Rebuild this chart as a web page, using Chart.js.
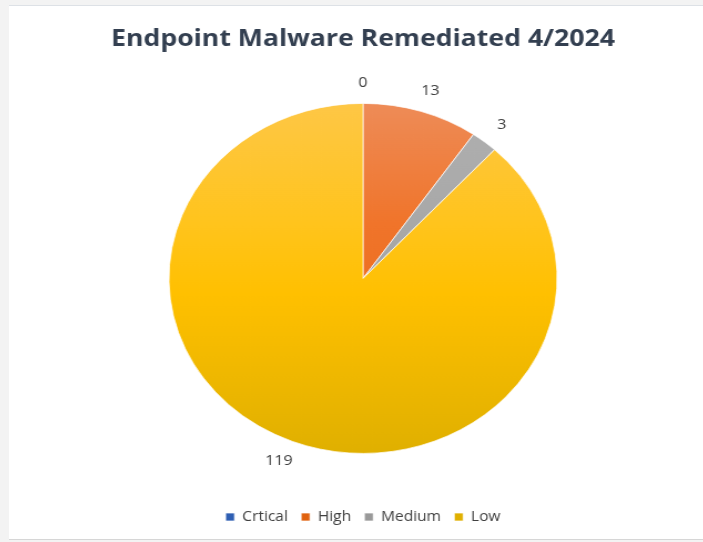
<!DOCTYPE html>
<html>
<head>
<meta charset="utf-8">
<script src="https://cdn.jsdelivr.net/npm/chart.js@4.4.1/dist/chart.umd.min.js"></script>
<style>
  html, body { margin: 0; padding: 0; background: #f3f3f3; }
  body { width: 703px; height: 542px; position: relative; overflow: hidden; }
  #panel {
    position: absolute; left: 9px; top: 5px; right: 0; height: 533px;
    background: #fff; border-top: 1px solid #dde1e6; border-bottom: 1px solid #d6d6d6;
  }
  #wrap {
    position: absolute; left: 27px; top: 0; width: 600px; height: 542px;
    transform: scaleX(1.109); transform-origin: 0 0;
  }
</style>
</head>
<body>
<div id="panel"></div>
<div id="wrap"><canvas id="malwareChart"></canvas></div>
<script>
const categories = ["Crtical", "High", "Medium", "Low"];
const remediated = [0, 13, 3, 119];
// gradient stops (top -> bottom) for each slice
const sliceColors = [
  ["#5b87d6", "#4472c4", "#4472c4", "#2f5fb3"],
  ["#ee8c58", "#f0742a", "#ed7022", "#e0620f"],
  ["#b0b0b0", "#a8a8a8", "#a5a5a5", "#999999"],
  ["#fec746", "#ffc41c", "#ffc000", "#e0b000"],
];

// value labels outside each slice, box pushed away from the pie
const outsideLabels = {
  id: "outsideLabels",
  afterDatasetsDraw(chart) {
    const ctx = chart.ctx;
    const meta = chart.getDatasetMeta(0);
    ctx.save();
    ctx.font = "14.5px 'Open Sans'";
    ctx.fillStyle = "#404040";
    ctx.textAlign = "center";
    ctx.textBaseline = "middle";
    meta.data.forEach((arc, i) => {
      const txt = String(remediated[i]);
      const w = ctx.measureText(txt).width;
      const mid = (arc.startAngle + arc.endAngle) / 2;
      const r = arc.outerRadius + 21;
      const x = arc.x + Math.cos(mid) * r + Math.cos(mid) * w / 2;
      const y = arc.y + Math.sin(mid) * r;
      ctx.fillText(txt, x, y);
    });
    ctx.restore();
  }
};

document.addEventListener("DOMContentLoaded", function () {
  const el = document.getElementById("malwareChart");
  new Chart(el, {
    type: "pie",
    data: {
      labels: categories,
      datasets: [{
        data: remediated,
        radius: 175,
        backgroundColor: function (c) {
          const area = c.chart.chartArea;
          const cols = sliceColors[c.dataIndex] || sliceColors[0];
          if (!area) return cols[2];
          const g = c.chart.ctx.createLinearGradient(0, 102, 0, 452);
          g.addColorStop(0, cols[0]);
          g.addColorStop(0.35, cols[1]);
          g.addColorStop(0.55, cols[2]);
          g.addColorStop(1, cols[3]);
          return g;
        },
        borderColor: "rgba(255,255,255,0.7)",
        borderWidth: 1,
      }],
    },
    options: {
      responsive: true,
      maintainAspectRatio: false,
      animation: false,
      layout: { padding: { bottom: 8, left: 6 } },
      plugins: {
        title: {
          display: true,
          text: "Endpoint Malware Remediated 4/2024",
          color: "#333f50",
          font: { family: "'Open Sans'", size: 24, weight: "bold" },
          padding: { top: 25, bottom: 5 },
        },
        legend: {
          position: "bottom",
          labels: {
            color: "#404040",
            font: { family: "'Open Sans'", size: 14 },
            boxWidth: 8,
            boxHeight: 8,
            padding: 12,
          },
        },
        tooltip: { enabled: false },
      },
    },
    plugins: [outsideLabels],
  });
});
</script>
</body>
</html>
